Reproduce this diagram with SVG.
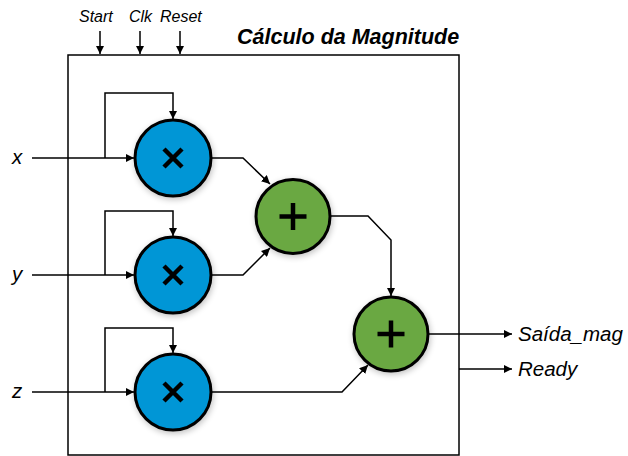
<svg xmlns="http://www.w3.org/2000/svg" width="628" height="456" viewBox="0 0 628 456">
<style>
.w{fill:none;stroke:#000;stroke-width:1.5}
.a{marker-end:url(#ah)}
.mul{fill:#0096D6;stroke:#000;stroke-width:3;filter:url(#sh)}
.add{fill:#6AA843;stroke:#000;stroke-width:3;filter:url(#sh)}
.sym{stroke:#000;stroke-width:4.5;fill:none}
text{font-family:"Liberation Sans","DejaVu Sans",sans-serif;font-style:italic;fill:#000}
.lbl{font-size:20.5px}
.sm{font-size:16px}
.tt{font-size:21.5px;font-weight:bold}
</style>
<defs>
<marker id="ah" viewBox="0 0 10 10" refX="10" refY="5" markerWidth="8.5" markerHeight="8.5" markerUnits="userSpaceOnUse" orient="auto">
<path d="M0,0 L10,5 L0,10 z" fill="#000"/>
</marker>
<filter id="sh" x="-30%" y="-30%" width="160%" height="160%">
<feGaussianBlur in="SourceAlpha" stdDeviation="3"/>
<feOffset dx="1" dy="2" result="b"/>
<feComponentTransfer><feFuncA type="linear" slope="0.25"/></feComponentTransfer>
<feMerge><feMergeNode/><feMergeNode in="SourceGraphic"/></feMerge>
</filter>
</defs>
<rect width="628" height="456" fill="#fff"/>
<g id="box">
<rect x="68" y="55" width="391" height="400" class="w"/>
<text x="237" y="44" class="tt">Cálculo da Magnitude</text>
</g>
<g id="controls">
<text x="79" y="22" class="sm">Start</text>
<text x="129" y="22" class="sm">Clk</text>
<text x="160" y="22" class="sm">Reset</text>
</g>
<g id="connectors">
<path class="w a" d="M100,31 V54"/>
<path class="w a" d="M140,31 V54"/>
<path class="w a" d="M180,31 V54"/>
<path class="w a" d="M32,158 H134"/>
<path class="w a" d="M105,158 V93 H173 V119"/>
<path class="w a" d="M32,275 H134"/>
<path class="w a" d="M105,275 V211 H173 V236"/>
<path class="w a" d="M32,392 H134"/>
<path class="w a" d="M105,392 V328 H173 V353"/>
<path class="w a" d="M211,158 H243 L270,184"/>
<path class="w a" d="M211,275 H243 L270,248"/>
<path class="w a" d="M211,392 H342 L368,365"/>
<path class="w a" d="M331,216 H368 L391,240 V296"/>
<path class="w a" d="M429,334 H512"/>
<path class="w a" d="M459,369 H512"/>
</g>
<g id="mul1"><circle cx="173" cy="158" r="38" class="mul"/><path class="sym" d="M164,149 L182,167 M182,149 L164,167"/></g>
<g id="mul2"><circle cx="173" cy="275" r="38" class="mul"/><path class="sym" d="M164,266 L182,284 M182,266 L164,284"/></g>
<g id="mul3"><circle cx="173" cy="392" r="38" class="mul"/><path class="sym" d="M164,383 L182,401 M182,383 L164,401"/></g>
<g id="add1"><circle cx="293" cy="216.5" r="37" class="add"/><path class="sym" d="M279.5,216.5 H306.5 M293,203 V230"/></g>
<g id="add2"><circle cx="391" cy="334" r="37" class="add"/><path class="sym" d="M377.5,334 H404.5 M391,320.5 V347.5"/></g>
<g id="inputs">
<text x="12" y="164" class="lbl">x</text>
<text x="12" y="281" class="lbl">y</text>
<text x="12" y="398" class="lbl">z</text>
</g>
<g id="outputs">
<text x="518" y="341" class="lbl">Saída_mag</text>
<text x="518" y="376" class="lbl">Ready</text>
</g>
</svg>
